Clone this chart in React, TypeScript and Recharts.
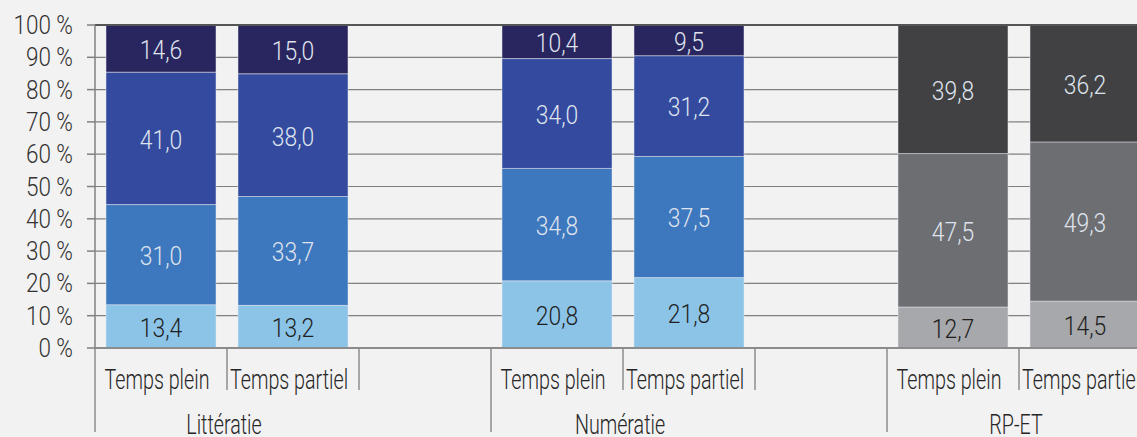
import { BarChart, Bar, XAxis, YAxis, CartesianGrid, Cell, LabelList, ReferenceLine } from 'recharts'

const categories = ['Temps plein', 'Temps partiel', '', 'Temps plein', 'Temps partiel', '', 'Temps plein', 'Temps partiel', '']
const groups = ['Littératie', 'Numératie', 'RP-ET']

// stacked from bottom to top
const level1 = [13.4, 13.2, null, 20.8, 21.8, null, 12.7, 14.5, null]
const level2 = [31.0, 33.7, null, 34.8, 37.5, null, 47.5, 49.3, null]
const level3 = [41.0, 38.0, null, 34.0, 31.2, null, 39.8, 36.2, null]
const level4 = [14.6, 15.0, null, 10.4, 9.5, null, null, null, null]

const yTicks = [0, 10, 20, 30, 40, 50, 60, 70, 80, 90, 100]

const blues = ['#8cc4e8', '#3d77bd', '#334a9e', '#29265f']
const greys = ['#a7a8ab', '#6d6e72', '#414143', '#414143']

const FONT = "Roboto, 'Liberation Sans', sans-serif"
const CHART_W = 1283
const CHART_H = 450
const LEFT = 95
const TOP = 25
const PLOT_BOTTOM = 348
const SLOT = (CHART_W - LEFT) / categories.length

const data = categories.map((name, i) => ({
  key: `c${i}`,
  name,
  l1: level1[i],
  l2: level2[i],
  l3: level3[i],
  l4: level4[i],
}))

const fmt = (v: any) => Number(v).toFixed(1).replace('.', ',')

// narrow text: the original uses a condensed light face
function NarrowText({ x, y, text, size, sx, fill, anchor = 'middle', dy = 0 }: any) {
  return (
    <text
      transform={`translate(${x} ${y}) scale(${sx} 1)`}
      textAnchor={anchor}
      dy={dy}
      fontSize={size}
      fontFamily={FONT}
      fontWeight={300}
      fill={fill}
    >
      {text}
    </text>
  )
}

function CatTick(props: any) {
  const { x, payload } = props
  const i = payload.index
  const first = i % 3 === 0
  const xl = x - SLOT / 2
  return (
    <g>
      <line x1={xl} x2={xl} y1={PLOT_BOTTOM} y2={first ? 432 : 390} stroke="#8c8c8c" strokeWidth={1.5} />
      <NarrowText x={x - 4} y={389} text={categories[i]} size={27} sx={0.73} fill="#262626" />
      {first && <NarrowText x={x + SLOT / 2 - 3} y={434} text={groups[i / 3]} size={27} sx={0.73} fill="#262626" />}
    </g>
  )
}

function YTick(props: any) {
  const { x, y, payload } = props
  return <NarrowText x={x} y={y} dy="0.36em" text={`${payload.value} %`} size={25} sx={0.9} fill="#333333" anchor="end" />
}

const makeLabel = (fill: string) => (props: any) => {
  const { x, y, width, height, value } = props
  if (value == null) return null
  return (
    <NarrowText
      x={Number(x) + Number(width) / 2}
      y={Number(y) + Number(height) / 2 + 1}
      dy="0.36em"
      text={fmt(value)}
      size={26}
      sx={0.88}
      fill={fill}
    />
  )
}

const series = [
  { key: 'l1', idx: 0, label: '#1f1f1f' },
  { key: 'l2', idx: 1, label: '#dfe3ee' },
  { key: 'l3', idx: 2, label: '#dfe3ee' },
  { key: 'l4', idx: 3, label: '#dfe3ee' },
]

export default function App() {
  return (
    <div
      style={{
        position: 'absolute',
        left: 0,
        top: 0,
        width: 1137,
        height: 437,
        overflow: 'hidden',
        background: '#f2f2f2',
      }}
    >
      <BarChart
        width={CHART_W}
        height={CHART_H}
        data={data}
        margin={{ top: TOP, right: 0, bottom: 0, left: 0 }}
      >
        <CartesianGrid vertical={false} stroke="#808080" strokeWidth={1.2} />
        <XAxis
          dataKey="key"
          height={CHART_H - PLOT_BOTTOM}
          interval={0}
          tickLine={false}
          axisLine={{ stroke: '#8c8c8c', strokeWidth: 2 }}
          tick={<CatTick />}
        />
        <YAxis
          width={LEFT}
          domain={[0, 100]}
          ticks={yTicks}
          interval={0}
          tickSize={8}
          tickMargin={14}
          tick={<YTick />}
          axisLine={{ stroke: '#808080', strokeWidth: 1.5 }}
          tickLine={{ stroke: '#808080', strokeWidth: 1.5 }}
        />
        <ReferenceLine y={100} stroke="#555555" strokeWidth={2} />
        {series.map((s) => (
          <Bar key={s.key} dataKey={s.key} stackId="a" barSize={110} isAnimationActive={false} stroke="#e6e9f2" strokeWidth={0.5}>
            {data.map((d, i) => (
              <Cell key={`${s.key}-${i}`} fill={i >= 6 ? greys[s.idx] : blues[s.idx]} />
            ))}
            <LabelList dataKey={s.key} content={makeLabel(s.label)} />
          </Bar>
        ))}
      </BarChart>
    </div>
  )
}
